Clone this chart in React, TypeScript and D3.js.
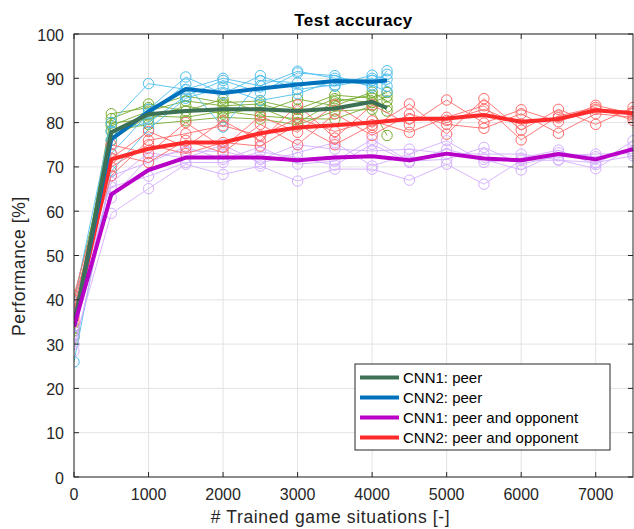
import React from "react";
import * as d3 from "d3";

const peerX = [0, 500, 1000, 1500, 2000, 2500, 3000, 3500, 4000, 4200];
const oppX = [0, 500, 1000, 1500, 2000, 2500, 3000, 3500, 4000, 4500, 5000, 5500, 6000, 6500, 7000, 7500];

const xTicks = [0, 1000, 2000, 3000, 4000, 5000, 6000, 7000];
const yTicks = [0, 10, 20, 30, 40, 50, 60, 70, 80, 90, 100];

// CNN1: peer – individual runs
const cnn1PeerRuns = [
  [33.5, 82.0, 83.4, 86.0, 84.5, 84.9, 83.0, 86.2, 85.5, 86.8],
  [32.0, 80.9, 84.2, 82.6, 85.3, 82.3, 85.3, 83.8, 86.9, 84.9],
  [34.0, 79.3, 82.6, 84.9, 83.8, 84.2, 81.9, 85.4, 84.5, 85.9],
  [31.5, 79.9, 80.8, 83.8, 81.9, 83.4, 80.0, 84.7, 86.2, 82.6],
  [40.0, 76.0, 81.5, 81.2, 82.6, 81.5, 80.9, 80.8, 83.8, 83.5],
  [33.0, 78.1, 79.6, 80.4, 81.2, 80.8, 79.5, 82.6, 83.0, 77.1],
];
const cnn1PeerMean = [34.0, 77.8, 81.9, 82.6, 83.0, 83.0, 82.6, 83.2, 84.7, 83.3];

// CNN2: peer – individual runs
const cnn2PeerRuns = [
  [39.5, 80.0, 88.8, 87.5, 90.0, 88.3, 91.6, 90.0, 89.5, 90.9],
  [37.0, 76.0, 83.0, 90.3, 86.5, 90.6, 87.5, 88.5, 90.7, 89.8],
  [34.0, 78.0, 80.0, 86.0, 89.5, 86.8, 91.2, 90.6, 88.0, 91.7],
  [32.0, 73.0, 82.0, 88.7, 79.0, 89.5, 89.0, 88.2, 90.0, 88.2],
  [26.0, 69.0, 78.5, 85.5, 88.0, 85.0, 86.5, 89.5, 88.5, 87.0],
];
const cnn2PeerMean = [34.0, 76.2, 82.5, 87.6, 86.7, 87.7, 88.6, 89.4, 89.2, 89.5];

// CNN1: peer and opponent – individual runs
const cnn1OppRuns = [
  [36.5, 66.5, 73.2, 72.0, 75.0, 70.8, 73.2, 75.5, 70.2, 72.9, 75.9, 71.0, 72.0, 73.8, 70.5, 75.9],
  [32.0, 68.0, 71.0, 74.5, 71.7, 74.5, 70.6, 71.3, 76.2, 71.3, 71.7, 74.4, 70.6, 72.5, 72.9, 73.0],
  [34.0, 63.0, 72.1, 73.6, 73.5, 71.7, 75.0, 74.0, 73.6, 74.0, 73.0, 72.9, 72.9, 71.6, 69.6, 74.6],
  [28.4, 65.5, 67.9, 71.0, 71.0, 73.4, 72.1, 70.4, 75.1, 71.0, 74.0, 71.7, 69.3, 73.2, 72.3, 73.6],
  [30.0, 59.5, 65.1, 70.6, 68.3, 70.2, 66.8, 69.5, 69.5, 67.0, 70.6, 66.1, 71.5, 71.5, 71.0, 72.5],
];
const cnn1OppMean = [34.0, 63.8, 69.3, 72.1, 72.1, 72.1, 71.5, 72.1, 72.4, 71.5, 73.0, 71.9, 71.5, 72.9, 71.7, 74.0];

// CNN2: peer and opponent – individual runs
const cnn2OppRuns = [
  [41.0, 72.0, 78.0, 74.5, 80.4, 75.9, 84.0, 76.5, 84.0, 79.5, 85.1, 79.9, 82.9, 80.2, 83.9, 82.0],
  [38.0, 75.0, 73.0, 80.0, 74.4, 81.5, 77.8, 84.0, 78.9, 84.2, 77.4, 85.4, 78.3, 83.0, 79.6, 83.4],
  [40.0, 68.0, 76.0, 77.5, 79.3, 77.0, 81.0, 78.0, 80.4, 77.8, 81.2, 83.8, 76.1, 81.5, 83.4, 80.5],
  [35.0, 73.0, 71.0, 76.0, 73.2, 79.6, 75.0, 82.0, 77.1, 81.9, 79.6, 78.7, 82.0, 77.6, 82.0, 81.2],
  [36.0, 70.0, 75.0, 73.0, 75.5, 74.7, 79.6, 75.0, 79.5, 80.9, 80.5, 83.0, 79.6, 81.1, 83.0, 82.5],
];
const cnn2OppMean = [35.0, 71.7, 74.1, 75.5, 75.5, 77.6, 78.9, 79.4, 80.0, 80.8, 80.9, 81.7, 80.2, 80.8, 82.8, 82.1];

const legendLabels = ["CNN1: peer", "CNN2: peer", "CNN1: peer and opponent", "CNN2: peer and opponent"];

const W = 634;
const H = 529;
const M = { left: 74, right: 633, top: 34, bottom: 477 };

const FONT = "'Liberation Sans', Arial, Helvetica, sans-serif";
const AXC = "#262626";
const GRID = "#e3e3e3";

const groups = [
  { runs: cnn1PeerRuns, mean: cnn1PeerMean, xs: peerX, thin: "#77AC30", thick: "#3C7155" },
  { runs: cnn2PeerRuns, mean: cnn2PeerMean, xs: peerX, thin: "#4DBEEE", thick: "#0072BD" },
  { runs: cnn1OppRuns, mean: cnn1OppMean, xs: oppX, thin: "#D4AEFF", thick: "#B800C6" },
  { runs: cnn2OppRuns, mean: cnn2OppMean, xs: oppX, thin: "#FF6A6A", thick: "#FF2B2B" },
];

export default function App() {
  const x = d3.scaleLinear().domain([0, 7500]).range([M.left, M.right]);
  const y = d3.scaleLinear().domain([0, 100]).range([M.bottom, M.top]);

  const mkLine = (xs: number[]) =>
    d3
      .line<number>()
      .x((_, i) => x(xs[i]))
      .y((d) => y(d));

  const tickLen = 5;
  const meanOrder = [3, 1, 0, 2];

  return (
    <svg
      width={W}
      height={H}
      style={{ position: "absolute", left: 0, top: 0, background: "#fff" }}
      fontFamily={FONT}
    >
      <rect x={0} y={0} width={W} height={H} fill="#fff" />
      <defs>
        <clipPath id="plotclip">
          <rect x={M.left} y={M.top - 6} width={M.right - M.left + 6} height={M.bottom - M.top + 12} />
        </clipPath>
      </defs>

      {/* grid */}
      {xTicks.map((t) => (
        <line key={"gx" + t} x1={x(t)} x2={x(t)} y1={M.top} y2={M.bottom} stroke={GRID} strokeWidth={1} />
      ))}
      {yTicks.map((t) => (
        <line key={"gy" + t} x1={M.left} x2={M.right} y1={y(t)} y2={y(t)} stroke={GRID} strokeWidth={1} />
      ))}

      <g clipPath="url(#plotclip)">
        {/* thin runs */}
        {groups.map((g, gi) =>
          g.runs.map((run, ri) => (
            <g key={`run-${gi}-${ri}`}>
              <path d={mkLine(g.xs)(run) || ""} fill="none" stroke={g.thin} strokeWidth={0.9} />
              {run.map((v, i) => (
                <circle key={i} cx={x(g.xs[i])} cy={y(v)} r={5.2} fill="none" stroke={g.thin} strokeWidth={1} />
              ))}
            </g>
          ))
        )}
        {/* means */}
        {meanOrder.map((gi) => {
          const g = groups[gi];
          return (
            <path
              key={"mean" + gi}
              d={mkLine(g.xs)(g.mean) || ""}
              fill="none"
              stroke={g.thick}
              strokeWidth={4}
              strokeLinejoin="round"
            />
          );
        })}
      </g>

      {/* axes box */}
      <rect x={M.left} y={M.top} width={M.right - M.left} height={M.bottom - M.top} fill="none" stroke={AXC} strokeWidth={1} />
      {xTicks.map((t) => (
        <g key={"tx" + t}>
          <line x1={x(t)} x2={x(t)} y1={M.bottom} y2={M.bottom - tickLen} stroke={AXC} />
          <line x1={x(t)} x2={x(t)} y1={M.top} y2={M.top + tickLen} stroke={AXC} />
          <text x={x(t)} y={M.bottom + 23} textAnchor="middle" fontSize={16} fill={AXC}>
            {t}
          </text>
        </g>
      ))}
      {yTicks.map((t) => (
        <g key={"ty" + t}>
          <line x1={M.left} x2={M.left + tickLen} y1={y(t)} y2={y(t)} stroke={AXC} />
          <line x1={M.right} x2={M.right - tickLen} y1={y(t)} y2={y(t)} stroke={AXC} />
          <text x={M.left - 10} y={y(t) + 6.5} textAnchor="end" fontSize={16} fill={AXC}>
            {t}
          </text>
        </g>
      ))}

      {/* title & labels */}
      <text x={(M.left + M.right) / 2} y={25.5} textAnchor="middle" fontSize={17} fontWeight="bold" letterSpacing={0.5} fill="#000">
        Test accuracy
      </text>
      <text x={330.5} y={523} textAnchor="middle" fontSize={17.5} letterSpacing={0.65} fill={AXC}>
        # Trained game situations [-]
      </text>
      <text
        transform={`translate(24.5, 266) rotate(-90)`}
        textAnchor="middle"
        fontSize={17.5}
        letterSpacing={0.65}
        fill={AXC}
      >
        Performance [%]
      </text>

      {/* legend */}
      <g>
        <rect x={355} y={364} width={255} height={86} fill="#fff" stroke={AXC} strokeWidth={1} />
        {legendLabels.map((lab, i) => {
          const ly = 377.5 + i * 20;
          return (
            <g key={lab}>
              <line x1={360} x2={399} y1={ly} y2={ly} stroke={groups[i].thick} strokeWidth={4} />
              <text x={403} y={ly + 5.5} fontSize={15} fill="#000">
                {lab}
              </text>
            </g>
          );
        })}
      </g>
    </svg>
  );
}
